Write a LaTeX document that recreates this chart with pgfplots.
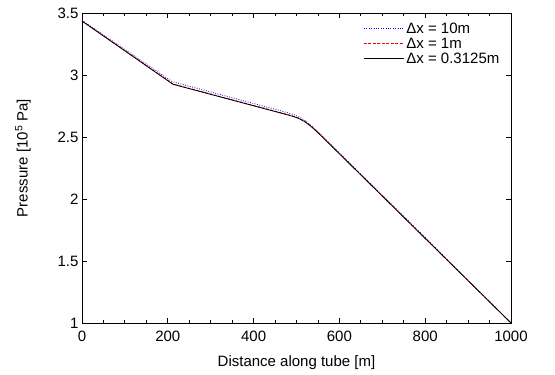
\documentclass[border=0pt]{standalone}
\usepackage{fontspec}
\setmainfont{Liberation Sans}
\usepackage{pgfplots}
\pgfplotsset{compat=1.18}
\begin{document}
\begin{tikzpicture}
\begin{axis}[
  scale only axis, width=429pt, height=310pt,
  xmin=0, xmax=1000, ymin=1, ymax=3.5,
  xtick={0,200,...,1000}, minor x tick num=3,
  ytick={1,1.5,2,2.5,3,3.5},
  tick align=inside, major tick length=5pt, minor tick length=3pt,
  axis line style={line width=0.9pt}, tick style={line width=0.8pt, black},
  every tick label/.style={font=\fontsize{15}{18}\selectfont},
  xticklabel style={yshift=-4pt},
  /pgf/number format/assume math mode=true,
  /pgf/number format/1000 sep={},
  xlabel={Distance along tube [m]}, ylabel={Pressure [10\textsuperscript{5} Pa]},
  label style={font=\fontsize{15}{18}\selectfont},
  xlabel style={yshift=-8pt},
  ylabel style={yshift=20pt, xshift=10pt},
  legend style={draw=none, fill=none, at={(0.985,0.982)}, anchor=north east,
    font=\fontsize{15}{16}\selectfont, row sep=-1pt},
  legend cell align=left,
  legend image code/.code={\draw[mark repeat=2,mark phase=2] plot coordinates {(0pt,0pt) (20pt,0pt) (40pt,0pt)};},
  clip=false,
]
\addplot[blue, line width=0.8pt, dash pattern=on 0.8pt off 1.6pt] coordinates {
(0,3.440) (210,2.947) (470,2.705) (490,2.685) (505,2.664) (520,2.633) (535,2.590) (550,2.542) (800,1.690) (1000,1.0)};
\addlegendentry{Δx = 10m}
\addplot[red, line width=0.8pt, dash pattern=on 3pt off 1.5pt] coordinates {
(0,3.437) (212,2.928) (470,2.690) (490,2.671) (505,2.653) (520,2.625) (535,2.585) (550,2.538) (1000,1.0)};
\addlegendentry{Δx = 1m}
\addplot[black, line width=0.8pt] coordinates {
(0,3.435) (212,2.925) (470,2.687) (490,2.668) (505,2.650) (520,2.622) (535,2.582) (550,2.535) (1000,1.0)};
\addlegendentry{Δx = 0.3125m}
\path (rel axis cs:0,0) ++(-82pt,-52pt) coordinate (bl);
\path (rel axis cs:1,1) ++(44pt,13pt) coordinate (tr);
\end{axis}
\useasboundingbox (bl) rectangle (tr);
\end{tikzpicture}
\end{document}
